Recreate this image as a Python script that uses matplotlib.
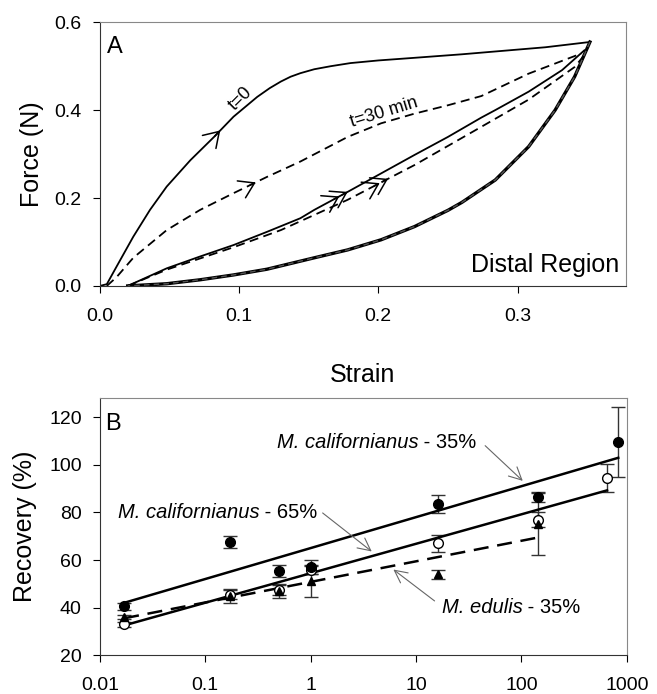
import numpy as np
import matplotlib
matplotlib.use("Agg")
import matplotlib.pyplot as plt
from matplotlib.ticker import FixedLocator, FixedFormatter, NullLocator

plt.rcParams.update({
    "font.family": ["Liberation Sans", "DejaVu Sans"],
    "xtick.labelsize": 14,
    "ytick.labelsize": 14,
    "axes.labelsize": 18,
    "xtick.direction": "out",
    "ytick.direction": "out",
    "xtick.major.size": 5,
    "ytick.major.size": 5,
})

# ---- panel A: force vs strain loops ----
t0_load_s = [0.000, 0.005, 0.012, 0.024, 0.036, 0.048, 0.065, 0.082, 0.096, 0.113, 0.122,
             0.130, 0.137, 0.144, 0.154, 0.166, 0.180, 0.200, 0.226, 0.260, 0.290, 0.320, 0.352]
t0_load_f = [0.000, 0.004, 0.044, 0.112, 0.173, 0.226, 0.286, 0.339, 0.385, 0.430, 0.450,
             0.465, 0.476, 0.484, 0.493, 0.500, 0.507, 0.513, 0.519, 0.527, 0.535, 0.543, 0.555]

t30_load_s = [0.005, 0.012, 0.024, 0.048, 0.072, 0.096, 0.120, 0.144, 0.178, 0.202, 0.226,
              0.250, 0.274, 0.308, 0.346]
t30_load_f = [0.000, 0.020, 0.064, 0.127, 0.173, 0.211, 0.248, 0.283, 0.339, 0.370, 0.392,
              0.411, 0.432, 0.483, 0.529]

mid_solid_s = [0.020, 0.048, 0.072, 0.096, 0.120, 0.144, 0.154, 0.178, 0.202, 0.226, 0.250,
               0.274, 0.284, 0.308, 0.332, 0.348]
mid_solid_f = [0.000, 0.040, 0.067, 0.093, 0.123, 0.154, 0.173, 0.214, 0.256, 0.298, 0.339,
               0.383, 0.400, 0.442, 0.491, 0.536]

mid_dash_s = [0.020, 0.048, 0.096, 0.130, 0.178, 0.226, 0.274, 0.308, 0.341, 0.348]
mid_dash_f = [0.000, 0.037, 0.088, 0.127, 0.196, 0.275, 0.362, 0.424, 0.498, 0.525]

unload_s = [0.352, 0.341, 0.327, 0.308, 0.284, 0.260, 0.250, 0.226, 0.202, 0.178, 0.154,
            0.120, 0.096, 0.072, 0.048, 0.020]
unload_f = [0.555, 0.476, 0.400, 0.317, 0.241, 0.190, 0.172, 0.135, 0.105, 0.082, 0.064,
            0.038, 0.025, 0.014, 0.005, 0.000]

# ---- panel B: recovery vs time ----
cal35_x = [0.017, 0.17, 0.5, 1, 16, 145, 830]
cal35_y = [40.5, 67.5, 55.5, 57.2, 83.4, 86.5, 109.5]
cal35_e = [1.5, 2.5, 2.6, 3.0, 3.8, 2.0, 14.7]

cal65_x = [0.017, 0.17, 0.5, 1, 16, 145, 650]
cal65_y = [33.0, 45.5, 47.5, 56.0, 67.0, 77.0, 94.5]
cal65_e = [1.0, 2.0, 2.0, 2.0, 3.7, 3.0, 6.0]

edu_x = [0.017, 0.17, 0.5, 1, 16, 145]
edu_y = [36.0, 45.0, 47.0, 51.0, 54.0, 75.0]
edu_e = [1.0, 3.0, 3.0, 6.5, 2.0, 13.0]

fit_cal35_x, fit_cal35_y = [0.017, 830], [42.0, 103.0]
fit_cal65_x, fit_cal65_y = [0.017, 650], [32.5, 89.3]
fit_edu_x, fit_edu_y = [0.017, 145], [35.5, 69.5]

xtick_vals = [0.01, 0.1, 1, 10, 100, 1000]
xtick_labs = ["0.01", "0.1", "1", "10", "100", "1000"]

fig = plt.figure(figsize=(6.57, 6.94), dpi=100)
ax1 = fig.add_axes([0.152, 0.588, 0.801, 0.380])
ax2 = fig.add_axes([0.152, 0.056, 0.802, 0.370])

for ax in (ax1, ax2):
    for side in ("left", "bottom"):
        ax.spines[side].set_color("#333333")
    for side in ("top", "right"):
        ax.spines[side].set_color("#888888")
    ax.tick_params(axis="x", pad=11)
    ax.tick_params(axis="y", pad=8)

k = "black"
ax1.plot(t0_load_s, t0_load_f, color=k, lw=1.3)
ax1.plot(t30_load_s, t30_load_f, color=k, lw=1.3, dashes=(5, 3))
ax1.plot(mid_solid_s, mid_solid_f, color=k, lw=1.3)
ax1.plot(mid_dash_s, mid_dash_f, color=k, lw=1.3, dashes=(5, 3))
ax1.plot(unload_s, unload_f, color=k, lw=2.4)
ax1.plot(unload_s, unload_f, color="#555555", lw=1.0, dashes=(4, 3))


def chevron(ax, s, f, tip):
    y1 = np.interp(tip, s, f)
    y0 = np.interp(tip - 0.004, s, f)
    ax.annotate("", xy=(tip, y1), xytext=(tip - 0.004, y0),
                arrowprops=dict(arrowstyle="->,head_length=0.7,head_width=0.45",
                                mutation_scale=15, lw=1.1, color=k,
                                shrinkA=0, shrinkB=0))


chevron(ax1, t0_load_s, t0_load_f, 0.0865)
chevron(ax1, t30_load_s, t30_load_f, 0.112)
chevron(ax1, mid_solid_s, mid_solid_f, 0.178)
chevron(ax1, mid_solid_s, mid_solid_f, 0.172)
chevron(ax1, mid_dash_s, mid_dash_f, 0.207)
chevron(ax1, mid_dash_s, mid_dash_f, 0.201)

ax1.text(0.101, 0.425, "t=0", rotation=45, fontsize=13, ha="center", va="center")
ax1.text(0.204, 0.395, "t=30 min", rotation=17, fontsize=13, ha="center", va="center")
ax1.text(0.028, 0.905, "A", transform=ax1.transAxes, fontsize=17, ha="center", va="center")
ax1.text(0.987, 0.08, "Distal Region", transform=ax1.transAxes, fontsize=18,
         ha="right", va="center")

ax1.set_xlim(0, 0.378)
ax1.set_ylim(0, 0.6)
ax1.set_xticks([0.0, 0.1, 0.2, 0.3])
ax1.set_xticklabels(["0.0", "0.1", "0.2", "0.3"])
ax1.set_yticks([0.0, 0.2, 0.4, 0.6])
ax1.set_yticklabels(["0.0", "0.2", "0.4", "0.6"])
ax1.set_xlabel("Strain")
ax1.set_ylabel("Force (N)")
ax1.xaxis.set_label_coords(0.5, -0.337)
ax1.xaxis.label.set_va("center")
ax1.yaxis.set_label_coords(-0.129, 0.5)
ax1.yaxis.label.set_va("center")

# panel B
eb = dict(ecolor="#333333", elinewidth=1, capsize=5, capthick=1, ls="none")
ax2.errorbar(cal65_x, cal65_y, yerr=cal65_e, marker="o", ms=7, mfc="white", mec=k, **eb)
ax2.errorbar(edu_x, edu_y, yerr=edu_e, marker="^", ms=6, mfc=k, mec=k, **eb)
ax2.errorbar(cal35_x, cal35_y, yerr=cal35_e, marker="o", ms=7, mfc=k, mec=k, **eb)

ax2.plot(fit_cal35_x, fit_cal35_y, color=k, lw=1.8)
ax2.plot(fit_cal65_x, fit_cal65_y, color=k, lw=1.8)
ax2.plot(fit_edu_x, fit_edu_y, color=k, lw=1.8, dashes=(6, 3.5))

arr = dict(arrowstyle="->,head_length=0.6,head_width=0.3", color="#666666", lw=0.8,
           mutation_scale=15, shrinkA=0, shrinkB=0)


def species_label(ax, x, y, name, pct):
    t = ax.text(x, y, name, fontsize=14.5, style="italic", ha="left", va="center")
    ax.annotate(" - " + pct, xy=(1, 0.5), xycoords=t, fontsize=14.5,
                ha="left", va="center")


species_label(ax2, 0.476, 109.5, "M. californianus", "35%")
ax2.annotate("", xy=(103, 93.3), xytext=(45.3, 108.1), arrowprops=arr)
species_label(ax2, 0.0148, 80, "M. californianus", "65%")
ax2.annotate("", xy=(3.8, 63.6), xytext=(1.3, 79.8), arrowprops=arr)
species_label(ax2, 17.5, 40, "M. edulis", "35%")
ax2.annotate("", xy=(6.1, 56), xytext=(15, 42.8), arrowprops=arr)
ax2.text(0.025, 0.9, "B", transform=ax2.transAxes, fontsize=17, ha="center", va="center")

ax2.set_xscale("log")
ax2.set_xlim(0.01, 1000)
ax2.set_ylim(20, 128)
ax2.xaxis.set_major_locator(FixedLocator(xtick_vals))
ax2.xaxis.set_major_formatter(FixedFormatter(xtick_labs))
ax2.xaxis.set_minor_locator(NullLocator())
ax2.set_yticks([20, 40, 60, 80, 100, 120])
ax2.set_ylabel("Recovery (%)")
ax2.yaxis.set_label_coords(-0.142, 0.5)
ax2.yaxis.label.set_va("center")

fig.savefig("out.png", dpi=100)
